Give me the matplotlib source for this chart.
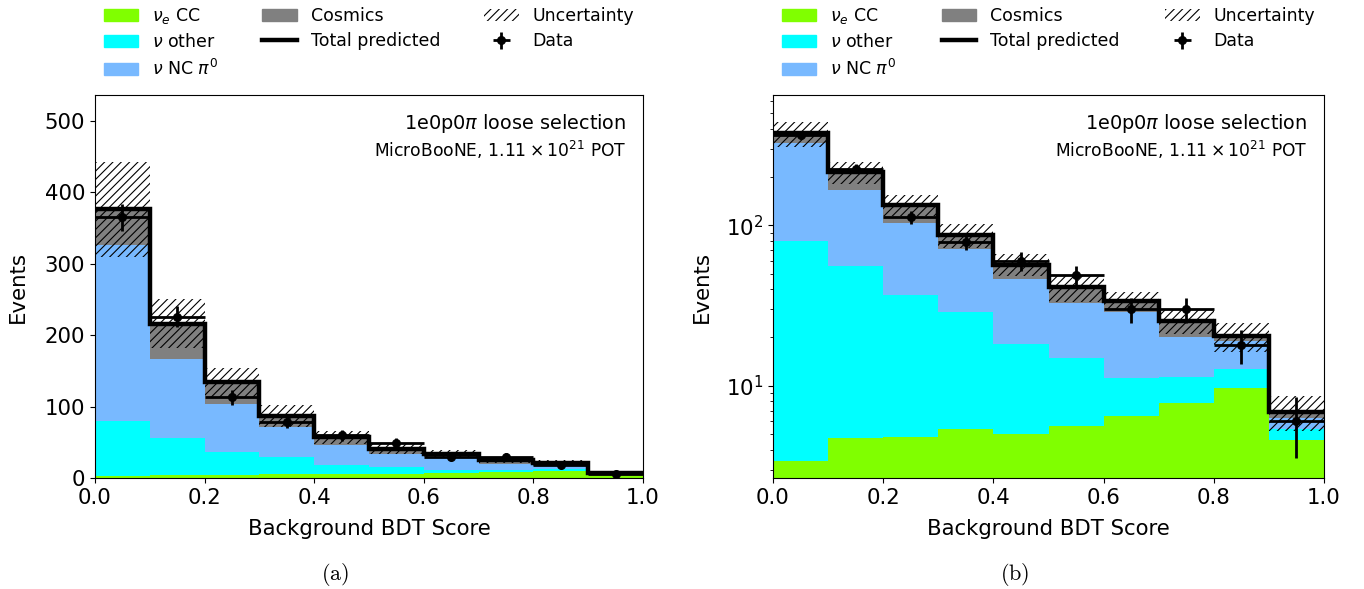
import numpy as np
import matplotlib
matplotlib.use("Agg")
import matplotlib.pyplot as plt
from matplotlib.patches import Patch
from matplotlib.lines import Line2D

# bin edges of the background BDT score
edges = np.linspace(0.0, 1.0, 11)

# predicted event counts per bin (stack order bottom -> top)
nue_cc = [3.4, 4.7, 4.8, 5.4, 5.0, 5.6, 6.5, 7.8, 9.7, 4.6]
nu_other = [76.0, 51.5, 32.1, 23.6, 13.2, 9.2, 4.6, 3.5, 3.1, 0.8]
nu_nc_pi0 = [246.6, 110.8, 67.1, 42.0, 27.8, 18.2, 17.9, 8.7, 6.2, 0.9]
cosmics = [50.0, 49.0, 30.0, 16.0, 11.0, 8.0, 5.0, 5.5, 1.5, 0.6]

# systematic uncertainty on total prediction
unc = [66, 34, 20, 15, 9, 7.5, 4.5, 4.5, 4.2, 1.7]

# observed data
data = [365, 226, 113, 79, 60, 49, 30, 30, 18, 6]

labels = [r"$\nu_e$ CC", r"$\nu$ other", r"$\nu$ NC $\pi^0$", "Cosmics"]
colors = ["#80ff00", "#00ffff", "#78b9ff", "#808080"]

plt.rcParams["hatch.linewidth"] = 0.8

fig = plt.figure(figsize=(13.64, 5.89), dpi=100)
ax_lin = fig.add_axes([0.0696, 0.1885, 0.4018, 0.650])
ax_log = fig.add_axes([0.5667, 0.1885, 0.4040, 0.650])

centers = 0.5 * (edges[1:] + edges[:-1])
comps = np.array([nue_cc, nu_other, nu_nc_pi0, cosmics])
total = comps.sum(axis=0)
unc = np.array(unc)
data = np.array(data)


def draw_panel(ax, log):
    base = np.full(len(centers), 1e-3 if log else 0.0)
    for vals, col in zip(comps, colors):
        ax.stairs(base + vals, edges, baseline=base, fill=True, color=col, lw=0, zorder=1)
        base = base + vals
    ax.stairs(total + unc, edges, baseline=total - unc, fill=True, facecolor="none",
              edgecolor="k", hatch="////", lw=0, zorder=2)
    ax.stairs(total, edges, baseline=None, color="k", lw=3.2, zorder=3)
    ax.errorbar(centers, data, yerr=np.sqrt(data), xerr=0.05, fmt="o", color="k",
                ms=5.5, elinewidth=2, capsize=0, zorder=4)

    ax.set_xlim(0, 1)
    ax.set_xlabel("Background BDT Score", fontsize=15.3, labelpad=8)
    ax.set_ylabel("Events", fontsize=15.3, labelpad=12 if not log else 10)
    ax.tick_params(labelsize=15.3)
    if log:
        ax.set_yscale("log")
        ax.set_ylim(2.66, 649)
    else:
        ax.set_ylim(0, 536)
        ax.set_yticks([0, 100, 200, 300, 400, 500])
    ax.set_xticks([0.0, 0.2, 0.4, 0.6, 0.8, 1.0])

    ax.text(0.97, 0.955, r"1e0p0$\pi$ loose selection", transform=ax.transAxes,
            ha="right", va="top", fontsize=13.9)
    ax.text(0.97, 0.885, r"MicroBooNE, $1.11\times10^{21}$ POT", transform=ax.transAxes,
            ha="right", va="top", fontsize=12.3)

    handles = [Patch(color=c, label=l) for c, l in zip(colors[:3], labels[:3])]
    handles += [Patch(color=colors[3], label=labels[3]),
                Line2D([0], [0], color="k", lw=3.2, label="Total predicted"),
                Patch(facecolor="none", edgecolor="k", hatch="////", lw=0, label="Uncertainty"),
                ax.errorbar([], [], yerr=[], xerr=[], fmt="o", color="k", ms=5.5,
                            elinewidth=2, label="Data")]
    ax.legend(handles=handles, ncol=3, loc="lower left", bbox_to_anchor=(0, 1.02, 1, 0.3),
              mode="expand", frameon=False, fontsize=12.5, borderaxespad=0.1,
              labelspacing=0.42)


draw_panel(ax_lin, False)
draw_panel(ax_log, True)

fig.text(335 / 1364, 1 - 574 / 589, r"$\mathrm{(a)}$", math_fontfamily="cm",
         ha="center", va="center", fontsize=16)
fig.text(1015 / 1364, 1 - 574 / 589, r"$\mathrm{(b)}$", math_fontfamily="cm",
         ha="center", va="center", fontsize=16)

fig.savefig("out.png", dpi=100)
